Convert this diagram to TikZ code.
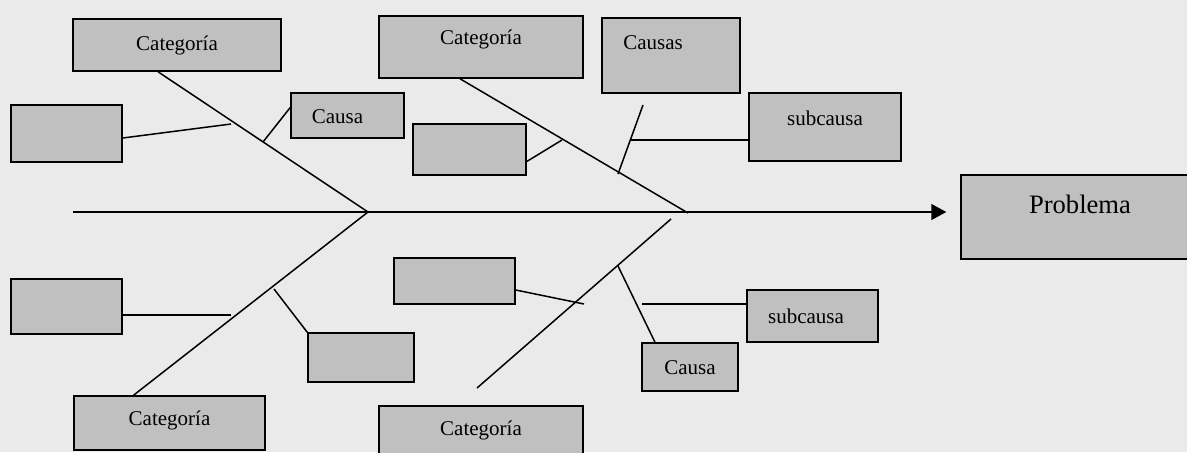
\documentclass[tikz,border=0pt]{standalone}
\usepackage{fontspec}
\setmainfont{Liberation Serif}
\usetikzlibrary{arrows.meta,calc}

\definecolor{bgcol}{HTML}{EAEAEA}
\definecolor{boxcol}{HTML}{C0C0C0}

\tikzstyle{box} = [rectangle, draw=black, fill=boxcol, line width=0.75pt, inner sep=0pt]
\tikzstyle{txt} = [inner sep=0pt, font=\fontsize{10.5}{12}\selectfont]
\tikzstyle{bone} = [line width=0.75pt]
\tikzstyle{arrow} = [line width=0.75pt, -{Triangle[length=7.5pt,width=8pt]}]

\begin{document}
\begin{tikzpicture}[x=0.5pt, y=-0.5pt]

\fill[bgcol] (0,0) rectangle (1187,452);
\useasboundingbox (0,0) rectangle (1187,452);
\clip (0,0) rectangle (1187,452);

% categories
\node (cat1) [box, minimum width=104pt, minimum height=26pt] at (177,45) {};
\node (cat2) [box, minimum width=102pt, minimum height=31pt] at (481,47) {};
\node (cat3) [box, minimum width=95.5pt, minimum height=27pt] at (169.5,423) {};
\node (cat4) [box, minimum width=102pt, minimum height=31pt] at (481,437) {};
\node (cat1t) [txt] at (177,45) {Categoría};
\node (cat2t) [txt] at (481,39) {Categoría};
\node (cat3t) [txt] at (169.5,420) {Categoría};
\node (cat4t) [txt] at (481,430) {Categoría};

% causes
\node (emp1) [box, minimum width=55.5pt, minimum height=28.5pt] at (66.5,133.5) {};
\node (causa1) [box, minimum width=56.5pt, minimum height=22.5pt] at (347.5,115.5) {};
\node (causa1t) [txt] at (337.5,117) {Causa};
\node (emp2) [box, minimum width=56.5pt, minimum height=25.5pt] at (469.5,149.5) {};
\node (causas) [box, minimum width=69pt, minimum height=37.5pt] at (671,55.5) {};
\node (causast) [txt] at (653,43) {Causas};
\node (sub1) [box, minimum width=76pt, minimum height=34pt] at (825,127) {};
\node (sub1t) [txt] at (825,118) {subcausa};
\node (emp3) [box, minimum width=55.5pt, minimum height=27.5pt] at (66.5,306.5) {};
\node (emp4) [box, minimum width=53pt, minimum height=24.5pt] at (361,357.5) {};
\node (emp5) [box, minimum width=60.5pt, minimum height=23pt] at (454.5,281) {};
\node (causa2) [box, minimum width=48pt, minimum height=24pt] at (690,367) {};
\node (causa2t) [txt] at (690,368) {Causa};
\node (sub2) [box, minimum width=65.5pt, minimum height=26pt] at (812.5,316) {};
\node (sub2t) [txt] at (806,316) {subcausa};

% effect
\node (prob) [box, minimum width=118pt, minimum height=42pt] at (1079,217) {};
\node (probt) [txt, font=\fontsize{13.3}{15}\selectfont] at (1080,204) {Problema};

% spine and bones
\coordinate (tail) at (73,212);
\coordinate (j1) at (368,212);
\coordinate (j2) at (688,213);
\coordinate (b4a) at (671,219);
\coordinate (b4b) at (477,388);

\draw [arrow, shorten >=7pt] (tail) -- (tail -| prob.west);
\draw [bone] ([xshift=-9.5pt]cat1.south) -- (j1);
\draw [bone] ([xshift=-10.5pt]cat2.south) -- (j2);
\draw [bone] (j1) -- ([xshift=-18pt]cat3.north);
\draw [bone] (b4a) -- (b4b);

% sub-bones
\coordinate (c1) at (231,124);
\coordinate (c2) at (263,142);
\coordinate (c3) at (562,140);
\coordinate (c4) at (618,174);
\coordinate (s1) at (630,140);
\coordinate (c5) at (231,315);
\coordinate (c6) at (274,289);
\coordinate (c7) at (584,304);
\coordinate (c8) at (618,266);
\coordinate (s2) at (642,304);

\draw [bone] ([yshift=-2.25pt]emp1.east) -- (c1);
\draw [bone] ([yshift=4pt]causa1.west) -- (c2);
\draw [bone] ([yshift=-6pt]emp2.east) -- (c3);
\draw [bone] (643,105) -- (c4);
\draw [bone] (s1) -- (s1 -| sub1.west);
\draw [bone] (c5 -| emp3.east) -- (c5);
\draw [bone] (c6) -- (emp4.north west);
\draw [bone] ([yshift=-4.5pt]emp5.east) -- (c7);
\draw [bone] (c8) -- ([xshift=-17.5pt]causa2.north);
\draw [bone] (s2) -- (s2 -| sub2.west);

\end{tikzpicture}
\end{document}
